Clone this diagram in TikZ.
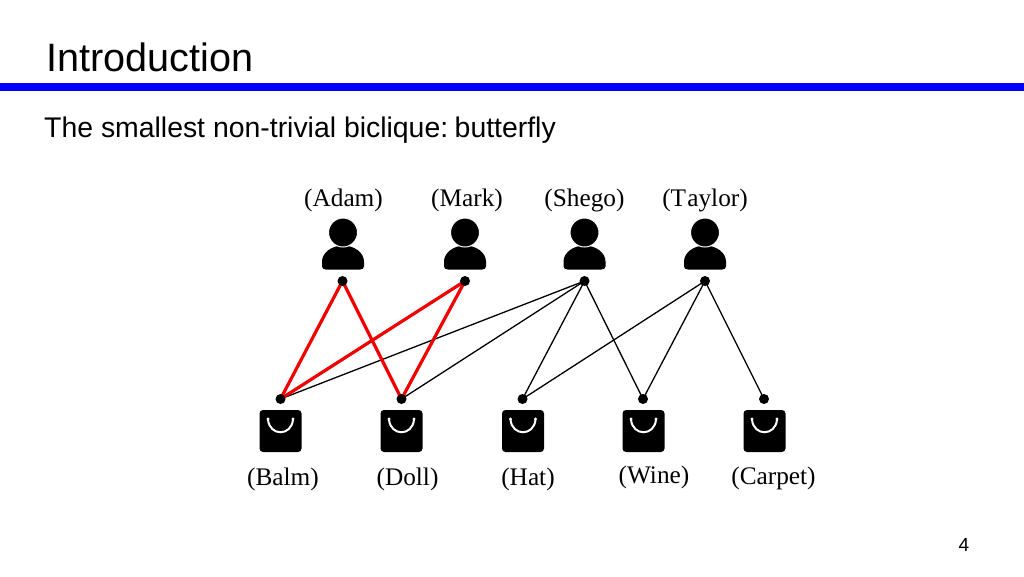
\documentclass[tikz,border=0pt]{standalone}
\usepackage{fontspec}
\usetikzlibrary{backgrounds}
\setmainfont{Liberation Serif}
\newfontfamily\arialf{Liberation Sans}
\tikzset{
  x=1pt,y=-1pt,
  dot/.style={circle,fill=black,inner sep=0pt,minimum size=10pt},
  lab/.style={font=\fontsize{25.3}{28}\selectfont,inner sep=0pt},
  plain/.style={black,line width=1.3pt},
  redge/.style={red!95!black,line width=3.2pt},
  person/.pic={
    \fill[black] (-21,29) .. controls (-21,20) and (-11,13) .. (0,13) .. controls (11,13) and (21,20) .. (21,29) -- (21,34) .. controls (21,36) and (19,37) .. (17,37) -- (-17,37) .. controls (-19,37) and (-21,36) .. (-21,34) -- cycle;
    \fill[black,draw=white,line width=1pt] (0,0) circle (14.5);
  },
  bag/.pic={
    \fill[black,rounded corners=3.5pt] (-21,-21) rectangle (21,21);
    \draw[white,line width=2pt,line cap=round] (-12.5,-11.5) .. controls (-11,5.5) and (11,5.5) .. (12.5,-11.5);
    \fill[white] (-12.5,-12) circle (1.7) (12.5,-12) circle (1.7);
  }
}
\begin{document}
\begin{tikzpicture}
\useasboundingbox (0,0) rectangle (1024,576);
\fill[blue] (0,83) rectangle (1024,91);
\node[anchor=base west,inner sep=0pt,font=\arialf\fontsize{39.6}{44}\selectfont] (title) at (46,71.5) {Introduction};
\node[anchor=base west,inner sep=0pt,font=\arialf\fontsize{28.4}{32}\selectfont] (sub) at (44,137) {The smallest non-trivial biclique:\kern-4pt{} butterfly};
\node[anchor=base,inner sep=0pt,font=\arialf\fontsize{19}{22}\selectfont] (page) at (964,551.5) {4};

\pic at (343,232.5) {person};
\pic at (465,232.5) {person};
\pic at (584.5,232.5) {person};
\pic at (705,232.5) {person};
\pic at (280.5,431) {bag};
\pic at (401.5,431) {bag};
\pic at (523,431) {bag};
\pic at (643.5,431) {bag};
\pic at (764.5,431) {bag};

\node[dot] (adam) at (342.5,281) {};
\node[dot] (mark) at (465,281) {};
\node[dot] (shego) at (584.5,281) {};
\node[dot] (taylor) at (705,281) {};
\node[dot] (balm) at (280.5,399) {};
\node[dot] (doll) at (401.5,399) {};
\node[dot] (hat) at (522.5,399) {};
\node[dot] (wine) at (643,399) {};
\node[dot] (carpet) at (764,399) {};

\begin{pgfonlayer}{background}
\fill[white] (0,0) rectangle (1024,576);
\draw[plain] (shego.center) -- (balm.center);
\draw[plain] (shego.center) -- (doll.center);
\draw[plain] (shego.center) -- (hat.center);
\draw[plain] (shego.center) -- (wine.center);
\draw[plain] (taylor.center) -- (hat.center);
\draw[plain] (taylor.center) -- (wine.center);
\draw[plain] (taylor.center) -- (carpet.center);
\draw[redge] (adam.center) -- (balm.center);
\draw[redge] (adam.center) -- (doll.center);
\draw[redge] (mark.center) -- (balm.center);
\draw[redge] (mark.center) -- (doll.center);
\end{pgfonlayer}

\node[lab,anchor=base] (ladam) at (343.5,206) {(Adam)};
\node[lab,anchor=base] (lmark) at (467,206) {(Mark)};
\node[lab,anchor=base] (lshego) at (584.5,206) {(Shego)};
\node[lab,anchor=base] (ltaylor) at (705,206) {(T\kern1.2pt aylor)};
\node[lab,anchor=base] (lbalm) at (283,485) {(Balm)};
\node[lab,anchor=base] (ldoll) at (407.5,485) {(Doll)};
\node[lab,anchor=base] (lhat) at (528,485) {(Hat)};
\node[lab,anchor=base] (lwine) at (654,483) {(Wine)};
\node[lab,anchor=base] (lcarpet) at (773.5,484) {(Carpet)};
\end{tikzpicture}
\end{document}
